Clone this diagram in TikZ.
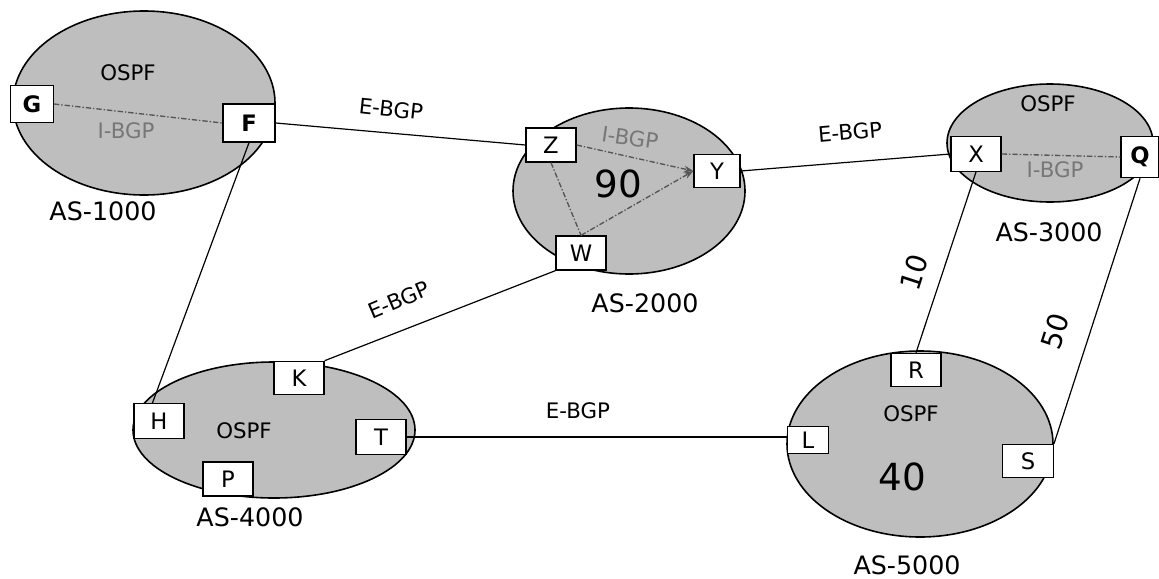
\documentclass[tikz,border=0pt]{standalone}
\usepackage{fontspec}
\setmainfont{DejaVu Sans}
\usetikzlibrary{arrows.meta,calc}
\definecolor{asfill}{HTML}{BEBEBE}
\definecolor{ibgp}{HTML}{555555}
\begin{document}
\begin{tikzpicture}[x=0.75pt,y=-0.75pt,
  asell/.style={draw=black,line width=1.2pt,fill=asfill},
  rbox/.style={draw=black,line width=1pt,fill=white,inner sep=0pt,
     minimum width=37.5pt,minimum height=25.5pt,font=\fontsize{17}{20}\selectfont},
  rboxb/.style={rbox,font=\fontsize{17}{20}\selectfont\bfseries},
  aslabel/.style={font=\fontsize{19}{22}\selectfont},
  ospf/.style={font=\fontsize{16}{19}\selectfont},
  ibgplabel/.style={font=\fontsize{16}{19}\selectfont,text=ibgp!80},
  ebgp/.style={font=\fontsize{16}{19}\selectfont,inner sep=1pt},
  bignum/.style={font=\fontsize{28}{32}\selectfont},
  cost/.style={font=\fontsize{21}{24}\selectfont,inner sep=1pt},
  link/.style={draw=black,line width=0.9pt},
  ibgpline/.style={draw=ibgp,line width=1pt,dash pattern=on 4pt off 1.5pt on 1pt off 1.5pt},
  ibgparrow/.style={ibgpline,-{Stealth[length=7pt,width=5pt]}}
]
\useasboundingbox (0,0) rectangle (1159,578);

% Autonomous systems
\draw[asell] (144,103) ellipse [x radius=131*0.75pt, y radius=92*0.75pt];
\draw[asell] (629,191) ellipse [x radius=116*0.75pt, y radius=83*0.75pt];
\draw[asell] (1050,143) ellipse [x radius=103*0.75pt, y radius=59*0.75pt];
\draw[asell] (274,430) ellipse [x radius=141*0.75pt, y radius=68*0.75pt];
\draw[asell] (920,444) ellipse [x radius=133*0.75pt, y radius=93*0.75pt];

% texts inside ASs
\node[ospf] (ospf1) at (128,73) {OSPF};
\node[ibgplabel] (ib1) at (126,131) {I-BGP};
\node[ibgplabel,rotate=-8] (ib2) at (630,138) {I-BGP};
\node[bignum] (n90) at (618,184) {90};
\node[ospf] (ospf3) at (1048,104) {OSPF};
\node[ibgplabel] (ib3) at (1055,170) {I-BGP};
\node[ospf] (ospf4) at (244,431) {OSPF};
\node[ospf] (ospf5) at (911,414) {OSPF};
\node[bignum] (n40) at (902,477) {40};

% AS labels
\node[aslabel] (as1) at (103,211) {AS-1000};
\node[aslabel] (as2) at (645,303) {AS-2000};
\node[aslabel] (as3) at (1049,232) {AS-3000};
\node[aslabel] (as4) at (250,517) {AS-4000};
\node[aslabel] (as5) at (907,565) {AS-5000};

% Routers
\node[rboxb,minimum width=32pt,minimum height=28pt] (G) at (32,104) {G};
\node[rboxb,minimum width=39pt,minimum height=28.5pt] (F) at (249,123) {F};
\node[rbox] (Z) at (551,145) {Z};
\node[rbox,minimum width=34.5pt,minimum height=25pt] (Y) at (717,171) {Y};
\node[rbox] (W) at (581,253) {W};
\node[rbox,minimum height=26pt] (X) at (976,154) {X};
\node[rboxb,minimum width=28.5pt,minimum height=31pt] (Q) at (1140,157) {Q};
\node[rbox,minimum height=25pt] (K) at (299,378) {K};
\node[rbox,minimum height=26pt] (H) at (159,421) {H};
\node[rbox,minimum height=26pt] (T) at (381,437) {T};
\node[rbox] (P) at (228,479) {P};
\node[rbox,minimum height=25pt] (R) at (916,370) {R};
\node[rbox,minimum width=31pt,minimum height=20pt] (L) at (808,440) {L};
\node[rbox,minimum width=38pt,minimum height=25pt] (S) at (1028,461) {S};

% I-BGP sessions
\draw[ibgpline] (G.east) -- (F.west);
\draw[ibgpline] (X.east) -- (Q.west);
\draw[ibgparrow] (Z.east) -- (Y.west);
\draw[ibgparrow] (W.north) -- (Y.west);
\draw[ibgpline] (Z.south) -- (W.north);

% E-BGP and other links
\draw[link] (F.east) -- (Z.west);
\draw[link] (F.south) -- (H.110);
\draw[link] (W.south west) -- (K.north east);
\draw[link] (Y.east) -- (X.west);
\draw[link] (T.east) -- (T.east -| L.west);
\draw[link] (X.south) -- (R.north);
\draw[link] (Q.south) -- (S.north east);

% link labels
\node[ebgp,rotate=-6] (e1) at (391,109) {E-BGP};
\node[ebgp,rotate=23] (e2) at (399,300) {E-BGP};
\node[ebgp,rotate=5] (e3) at (850,132) {E-BGP};
\node[ebgp] (e4) at (578,411) {E-BGP};
\node[cost,rotate=72] (c10) at (914,272) {10};
\node[cost,rotate=72] (c50) at (1055,331) {50};
\end{tikzpicture}
\end{document}
